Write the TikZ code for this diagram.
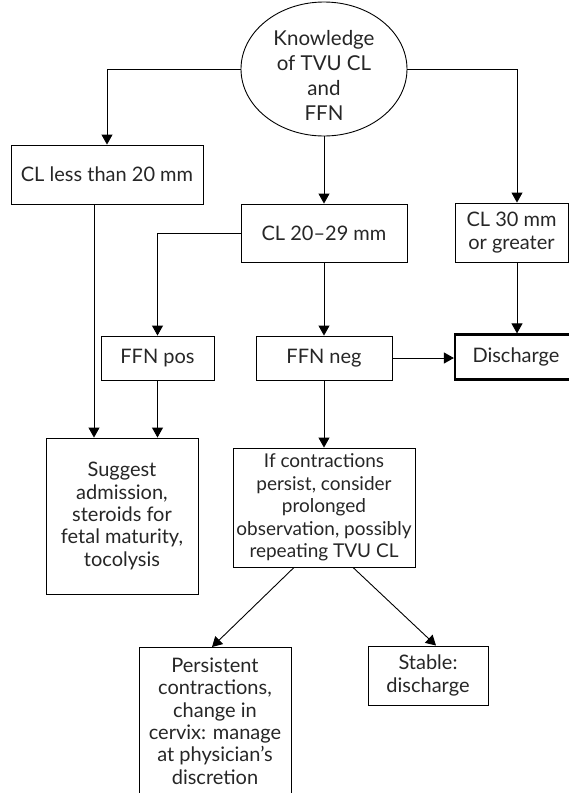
\documentclass[tikz,border=0pt]{standalone}
\usepackage{fontspec}
\setmainfont{Lato}
\usetikzlibrary{arrows.meta,shapes.geometric}
\begin{document}
\begin{tikzpicture}[x=1pt,y=-1pt,
 every node/.style={font=\fontsize{20}{22.4}\selectfont, align=center, inner sep=0pt, text=black!85},
 box/.style={draw, line width=0.9pt, rectangle},
 arr/.style={line width=0.9pt, -{Triangle[length=10pt,width=11pt]}},
 ln/.style={line width=0.9pt}]
\useasboundingbox (0,0) rectangle (569,793);
\clip (0,0) rectangle (569,793);
% top ellipse
\node[draw, ellipse, line width=0.9pt, minimum width=166pt, minimum height=134pt] (know) at (324,69) {};
\node[font=\fontsize{20.5}{25}\selectfont] (knowtxt) at (324,75) {Knowledge\\of TVU CL\\and\\FFN};
% level 2
\node[box, minimum width=192pt, minimum height=59pt] (cl20) at (107,174.5) {CL less than 20 mm};
\node[box, minimum width=166pt, minimum height=58pt] (cl2029) at (324,233) {CL 20--29 mm};
\node[box, minimum width=113pt, minimum height=59pt] (cl30) at (511.5,232.5) {CL 30 mm\\or greater};
% level 3
\node[box, minimum width=113pt, minimum height=44pt] (ffnpos) at (157.5,358) {FFN pos};
\node[box, minimum width=136pt, minimum height=44pt] (ffnneg) at (324,358) {FFN neg};
\node[box, line width=2.2pt, minimum width=130pt, minimum height=45pt] (dis) at (520,357) {\hspace*{-8pt}Discharge};
% level 4
\node[box, minimum width=152pt, minimum height=156pt] (sugg) at (122,516) {Suggest\\admission,\\steroids for\\fetal maturity,\\tocolysis};
\node[box, minimum width=182pt, minimum height=119pt, font=\fontsize{19}{22.4}\selectfont] (ifc) at (324,507.5) {If contractions\\persist, consider\\prolonged\\observation, possibly\\repeating TVU CL};
% level 5
\node[box, minimum width=152pt, minimum height=170pt, anchor=north] (pers) at (215,647) {};
\node (perstxt) at (215,721) {Persistent\\contractions,\\change in\\cervix: manage\\at physician's\\discretion};
\node[box, minimum width=120pt, minimum height=59pt] (stab) at (428,675.5) {Stable:\\discharge};
% connectors
\draw[arr] (know.west) -| (cl20.north);
\draw[arr] (know.east) -| ([xshift=5.5pt]cl30.north);
\draw[arr] (know.south) -- (cl2029.north);
\draw[arr] (cl2029.west) -| (ffnpos.north);
\draw[arr] (cl2029.south) -- (ffnneg.north);
\draw[arr] (ffnneg.east) -- (ffnneg.east -| dis.west);
\draw[arr] ([xshift=5.5pt]cl30.south) -- ([xshift=5.5pt]cl30.south |- dis.north);
\draw[arr] ([xshift=-13pt]cl20.south) -- ([xshift=-13pt]cl20.south |- sugg.north);
\draw[arr] (ffnpos.south) -- (ffnpos.south |- sugg.north);
\draw[arr] (ffnneg.south) -- (ifc.north);
\draw[arr] ([xshift=-30pt]ifc.south) -- ([xshift=-3pt]pers.north);
\draw[arr] ([xshift=29pt]ifc.south) -- ([xshift=8pt]stab.north);
\end{tikzpicture}
\end{document}
